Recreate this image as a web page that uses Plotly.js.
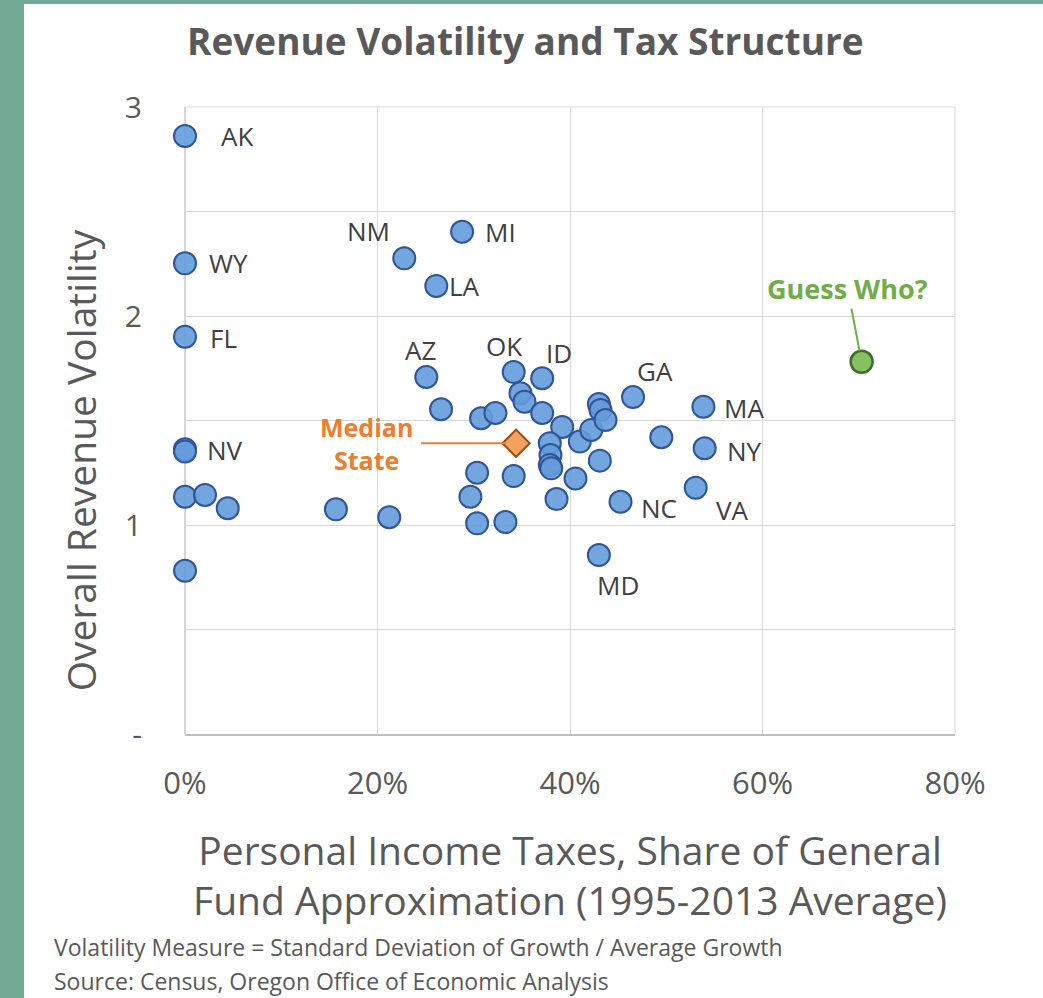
<!DOCTYPE html>
<html><head><meta charset="utf-8">
<script src="https://cdn.plot.ly/plotly-3.0.1.min.js"></script>
<style>
html,body{margin:0;padding:0;background:#72a994;width:1043px;height:998px;overflow:hidden}
#chart{position:absolute;left:24px;top:4px;width:1019px;height:994px;background:#fff}
</style></head><body><div id="chart"></div>
<script>
// ---- data (x = PIT share of general fund, y = overall revenue volatility) ----
const stateX = [0, 0, 0, 0, 0, 0, 0, 0.0208, 0.0444, 0.1568, 0.2122,
  0.2278, 0.2879, 0.2611, 0.2507, 0.2660, 0.3076, 0.3225, 0.3415, 0.3485, 0.3527,
  0.3711, 0.3711, 0.3919, 0.3790, 0.3797, 0.3790, 0.3805, 0.4102, 0.4221, 0.4300,
  0.4317, 0.4369, 0.4310, 0.4057, 0.3860, 0.3415, 0.3035, 0.2965, 0.3035, 0.3329,
  0.4655, 0.5386, 0.4949, 0.5399, 0.5306, 0.4525, 0.4300];
const stateY = [2.861, 2.252, 1.901, 1.362, 1.352, 1.135, 0.781, 1.144, 1.080, 1.075, 1.037,
  2.276, 2.403, 2.144, 1.708, 1.554, 1.511, 1.536, 1.732, 1.630, 1.590,
  1.702, 1.536, 1.469, 1.391, 1.335, 1.287, 1.271, 1.399, 1.455, 1.579,
  1.550, 1.502, 1.308, 1.223, 1.124, 1.234, 1.250, 1.135, 1.008, 1.014,
  1.612, 1.566, 1.420, 1.367, 1.178, 1.111, 0.856];
const stateLabels = ['AK', 'WY', 'FL', 'NV', '', '', '', '', '', '', '',
  'NM', 'MI', 'LA', 'AZ', '', '', '', 'OK', '', '',
  'ID', '', '', '', '', '', '', '', '', '',
  '', '', '', '', '', '', '', '', '', '',
  'GA', 'MA', '', 'NY', 'VA', 'NC', 'MD'];
const medianX = [0.344];
const medianY = [1.391];
const guessX = [0.703];
const guessY = [1.781];
const xTickVals = [0, 0.2, 0.4, 0.6, 0.8];
const xTickText = ['0%', '20%', '40%', '60%', '80%'];
const yTickVals = [0, 0.5, 1, 1.5, 2, 2.5, 3];
const yTickText = ['-', '', '1', '', '2', '', '3'];
const titleText = 'Revenue Volatility and Tax Structure';
const xTitle = 'Personal Income Taxes, Share of General<br>Fund Approximation (1995-2013 Average)';
const yTitle = 'Overall Revenue Volatility';
const notes = ['Volatility Measure = Standard Deviation of Growth / Average Growth',
  'Source: Census, Oregon Office of Economic Analysis'];

// ---- styling ----
const FONT = 'Open Sans, DejaVu Sans, sans-serif';
const GREY = '#595959';
// label offsets in pixels (dx right, dy down) from the point
const labelOffset = {
  AK: [52, 0], WY: [43, 0], FL: [38, 1], NV: [40, 1], NM: [-36, -27], MI: [38, 0],
  LA: [28, 0], AZ: [-6, -27], OK: [-10, -26], ID: [17, -25], GA: [22, -26],
  MA: [41, 1], NY: [40, 3], NC: [38, 6], VA: [37, 22], MD: [19, 30]
};

const traces = [
  {
    type: 'scatter', mode: 'markers', x: stateX, y: stateY, text: stateLabels,
    cliponaxis: false, hoverinfo: 'x+y+text',
    marker: {size: 22, color: 'rgba(100,155,220,0.9)', line: {color: '#2f5597', width: 2}}
  },
  {
    type: 'scatter', mode: 'markers', x: medianX, y: medianY, cliponaxis: false,
    marker: {symbol: 'diamond', size: 21, color: '#f2a25c', line: {color: '#9c4a12', width: 2}}
  },
  {
    type: 'scatter', mode: 'markers', x: guessX, y: guessY, cliponaxis: false,
    marker: {size: 22, color: '#86c061', line: {color: '#3d6e2a', width: 2.5}}
  }
];

const annotations = [];
stateLabels.forEach((lab, i) => {
  if (!lab) return;
  const o = labelOffset[lab] || [30, 0];
  annotations.push({
    x: stateX[i], y: stateY[i], xref: 'x', yref: 'y', text: lab, showarrow: false,
    xanchor: 'center', yanchor: 'middle', xshift: o[0], yshift: -o[1],
    font: {family: FONT, size: 26, color: '#404040'}
  });
});
annotations.push({
  x: medianX[0], y: medianY[0], xref: 'x', yref: 'y', text: '<b>Median<br>State</b>',
  showarrow: true, arrowhead: 0, arrowwidth: 2, arrowcolor: '#ed7d31', ax: -150, ay: 0,
  standoff: 10, borderpad: 8, font: {family: FONT, size: 25, color: '#ed7d31'}
});
annotations.push({
  x: guessX[0], y: guessY[0], xref: 'x', yref: 'y', text: '<b>Guess Who?</b>',
  showarrow: true, arrowhead: 0, arrowwidth: 2, arrowcolor: '#70ad47', ax: -14, ay: -73,
  standoff: 11, font: {family: FONT, size: 27, color: '#70ad47'}
});
annotations.push({
  x: -0.136, y: 0.437, xref: 'paper', yref: 'paper', text: yTitle, showarrow: false,
  textangle: -90, xanchor: 'center', yanchor: 'middle',
  font: {family: FONT, size: 39, color: GREY}
});
notes.forEach((t, i) => annotations.push({
  x: -0.1727, y: -0.3397 - i * 0.0542, xref: 'paper', yref: 'paper', text: t, showarrow: false,
  xanchor: 'left', yanchor: 'middle', font: {family: FONT, size: 23, color: GREY}
}));

const frame = '#d9d9d9';
const shapes = [
  {type: 'line', xref: 'paper', yref: 'paper', x0: 0, x1: 1, y0: 1, y1: 1, layer: 'below', line: {color: frame, width: 1}},
  {type: 'line', xref: 'paper', yref: 'paper', x0: 0, x1: 0, y0: 0, y1: 1, layer: 'below', line: {color: '#c8c8c8', width: 1.5}},
  {type: 'line', xref: 'paper', yref: 'paper', x0: 1, x1: 1, y0: 0, y1: 1, layer: 'below', line: {color: frame, width: 1}}
];

const layout = {
  width: 1019, height: 994,
  margin: {l: 161, r: 88, t: 103, b: 264},
  paper_bgcolor: '#ffffff', plot_bgcolor: '#ffffff',
  showlegend: false,
  font: {family: FONT, color: GREY},
  title: {
    text: '<b>' + titleText + '</b>', xref: 'container', yref: 'container',
    x: 0.492, xanchor: 'center', y: 0.962, yanchor: 'middle',
    font: {family: FONT, size: 37, color: GREY}
  },
  xaxis: {
    range: [0, 0.8], tickvals: xTickVals, ticktext: xTickText,
    showgrid: true, gridcolor: frame, gridwidth: 1, zeroline: false,
    showline: true, linecolor: '#bfbfbf', linewidth: 2,
    ticks: '', ticklabelstandoff: 21,
    tickfont: {family: FONT, size: 31, color: GREY},
    title: {text: xTitle, standoff: 35, font: {family: FONT, size: 39, color: GREY}}
  },
  yaxis: {
    range: [0, 3], tickvals: yTickVals, ticktext: yTickText,
    showgrid: true, gridcolor: frame, gridwidth: 1, zeroline: false,
    showline: false, ticks: '', ticklabelstandoff: 42,
    tickfont: {family: FONT, size: 30, color: GREY}
  },
  shapes: shapes,
  annotations: annotations
};

Plotly.newPlot('chart', traces, layout, {displayModeBar: false, staticPlot: true});
</script></body></html>
